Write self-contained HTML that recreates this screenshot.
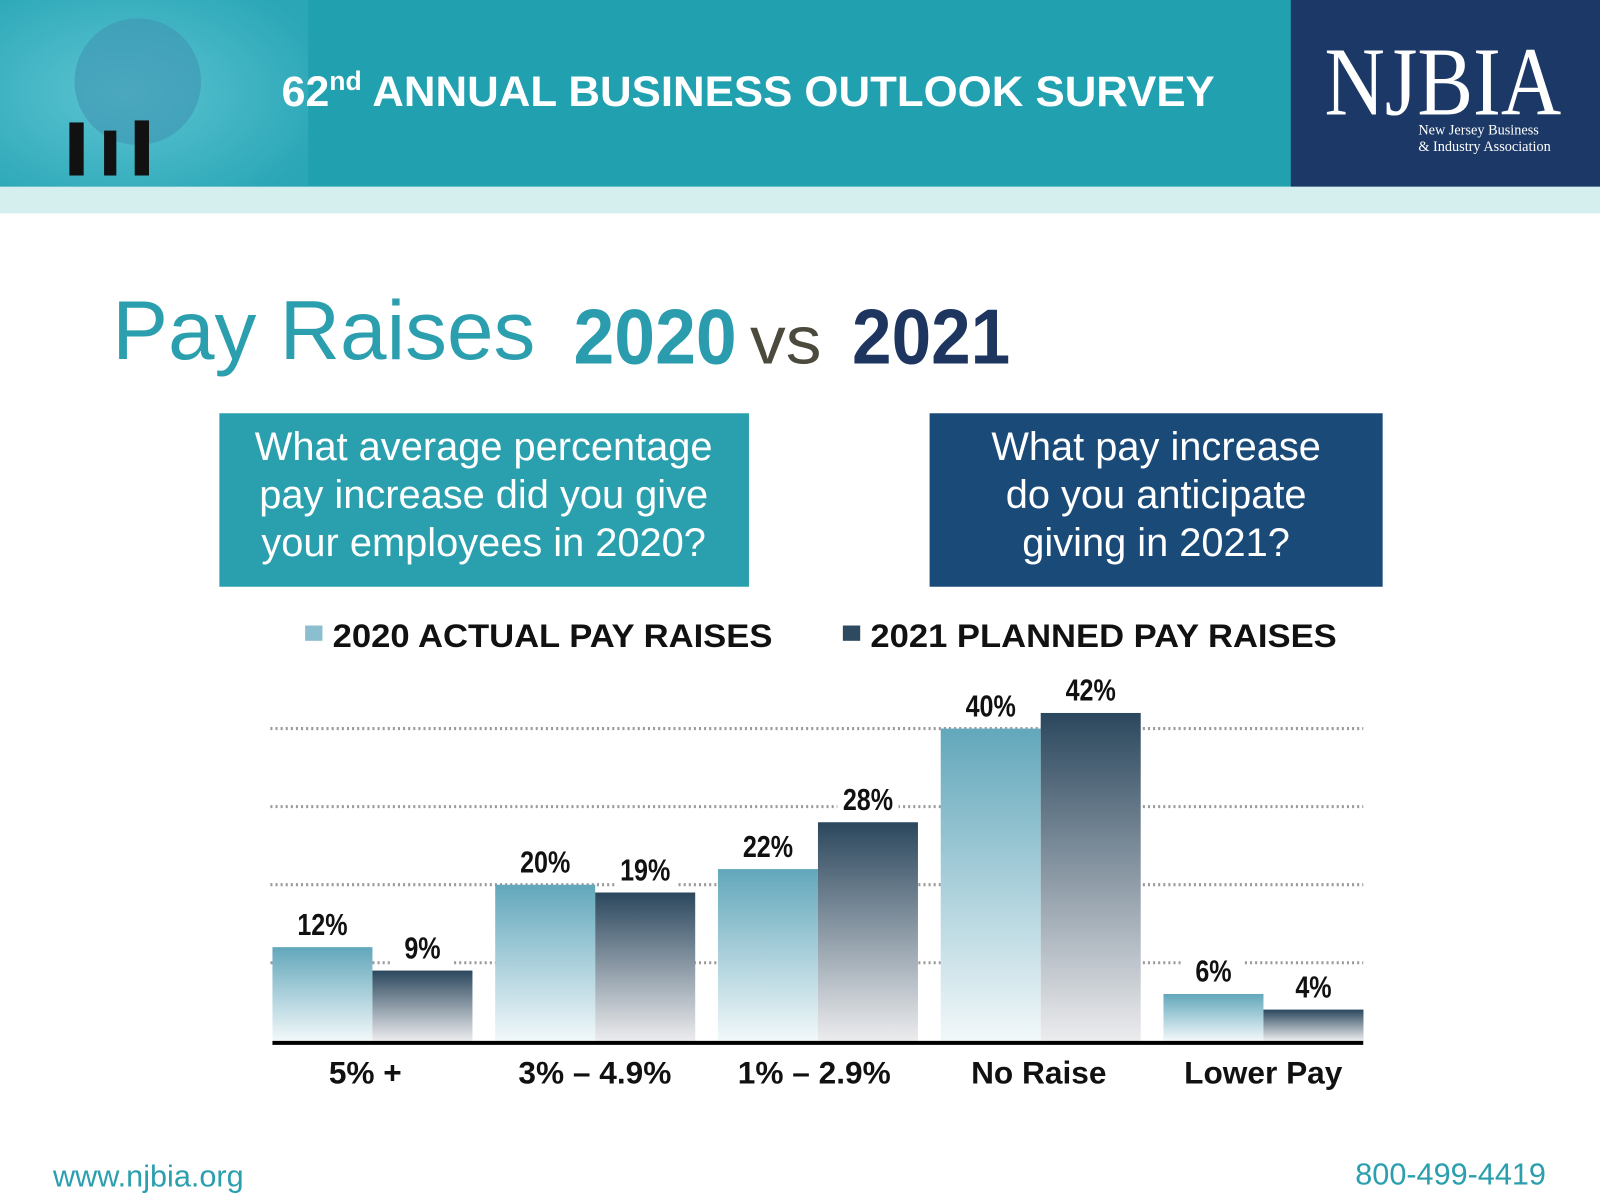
<!DOCTYPE html>
<html><head><meta charset="utf-8">
<style>
html,body{margin:0;padding:0;background:#fff;overflow:hidden}
#wrap{width:1568px;height:1176px;position:relative;transform:scale(1.020408);transform-origin:0 0;font-family:"Liberation Sans",sans-serif}
</style></head><body>
<div id="wrap">
<svg width="1568" height="1176" viewBox="0 0 1568 1176" xmlns="http://www.w3.org/2000/svg">
<defs>
<linearGradient id="gl" x1="0" y1="0" x2="0" y2="1"><stop offset="0" stop-color="#62a7bb"/><stop offset="1" stop-color="#f2f8fa"/></linearGradient>
<linearGradient id="gd" x1="0" y1="0" x2="0" y2="1"><stop offset="0" stop-color="#2b475d"/><stop offset="1" stop-color="#ececee"/></linearGradient>
<radialGradient id="hg" cx="0.4" cy="0.5" r="0.7"><stop offset="0" stop-color="#5cc4d2"/><stop offset="1" stop-color="#2aa6b6"/></radialGradient>
</defs>
<rect x="0" y="0" width="1568" height="183" fill="#21a0b0"/>
<rect x="0" y="0" width="302" height="183" fill="url(#hg)"/>
<circle cx="135" cy="80" r="62" fill="#3f94b0" opacity="0.6"/>
<g fill="#111"><rect x="68" y="120" width="14" height="52"/><rect x="102" y="128" width="12" height="44"/><rect x="132" y="118" width="14" height="54"/></g>
<text x="276" y="104" font-size="42" font-weight="bold" fill="#fff">62<tspan font-size="26" dy="-16">nd</tspan><tspan dy="16" textLength="836" lengthAdjust="spacingAndGlyphs"> ANNUAL BUSINESS OUTLOOK SURVEY</tspan></text>
<rect x="1265" y="0" width="303" height="183" fill="#1b3866"/>
<text x="1298" y="112" font-family="Liberation Serif,serif" font-size="96" fill="#fff" textLength="232" lengthAdjust="spacingAndGlyphs">NJBIA</text>
<text x="1390" y="132" font-family="Liberation Serif,serif" font-size="14" fill="#fff">New Jersey Business</text>
<text x="1390" y="148" font-family="Liberation Serif,serif" font-size="14" fill="#fff">&amp; Industry Association</text>
<rect x="0" y="183" width="1568" height="26" fill="#d5eeee"/>

<text x="110" y="352" font-size="82" fill="#2b9fae">Pay Raises</text>
<g>
<text x="562" y="356" font-size="76" font-weight="bold" fill="#2a9cad" textLength="160" lengthAdjust="spacingAndGlyphs">2020</text>
<text x="735" y="356" font-size="66" fill="#4b4a3c" textLength="70" lengthAdjust="spacingAndGlyphs">vs</text>
<text x="835" y="356" font-size="76" font-weight="bold" fill="#1e3560" textLength="155" lengthAdjust="spacingAndGlyphs">2021</text>
</g>

<rect x="215" y="405" width="519" height="170" fill="#2aa0ae"/>
<g font-size="39" fill="#fff" text-anchor="middle">
<text x="474" y="451">What average percentage</text><text x="474" y="498">pay increase did you give</text><text x="474" y="545">your employees in 2020?</text></g>
<rect x="911" y="405" width="444" height="170" fill="#1a4a78"/>
<g font-size="39" fill="#fff" text-anchor="middle">
<text x="1133" y="451">What pay increase</text><text x="1133" y="498">do you anticipate</text><text x="1133" y="545">giving in 2021?</text></g>

<rect x="299" y="613" width="17" height="15" fill="#8bbfcf"/>
<text x="326" y="634" font-size="32" font-weight="bold" fill="#111" textLength="431" lengthAdjust="spacingAndGlyphs">2020 ACTUAL PAY RAISES</text>
<rect x="826" y="613" width="17" height="15" fill="#2d4a60"/>
<text x="853" y="634" font-size="32" font-weight="bold" fill="#111" textLength="457" lengthAdjust="spacingAndGlyphs">2021 PLANNED PAY RAISES</text>

<g id="chart"></g>

<text x="52" y="1163" font-size="30" fill="#2b9fae">www.njbia.org</text>
<text x="1515" y="1161" font-size="30" fill="#2b9fae" text-anchor="end">800-499-4419</text>
</svg>
</div>
<script>
const categories = ["5% +", "3% \u2013 4.9%", "1% \u2013 2.9%", "No Raise", "Lower Pay"];
const values2020 = [12, 20, 22, 40, 6];
const values2021 = [9, 19, 28, 42, 4];
const gridTicks = [10, 20, 30, 40];

const NS = "http://www.w3.org/2000/svg";
const chart = document.getElementById("chart");
const y0 = 1020, perPct = 7.65;
const yScale = v => y0 - v * perPct;
const groupX = i => 267 + i * 218.3;
const barW = 98;
const labelCenters = [358, 583, 798, 1018, 1238];
function mk(tag, attrs) { const e = document.createElementNS(NS, tag); for (const k in attrs) e.setAttribute(k, attrs[k]); chart.appendChild(e); return e; }

gridTicks.forEach(t => {
  const g = mk("line", {x1: 265, x2: 1336, y1: yScale(t), y2: yScale(t), stroke: "#9a9a9a", "stroke-width": 3, "stroke-dasharray": "2 3"});
  
  
});

function label(x, v, name) {
  const y = yScale(v) - 12;
  const bg = mk("rect", {x: x - 30, y: y - 26, width: 60, height: 32, fill: "#fff"});
  
  
  const t = mk("text", {x: 0, y: y, "font-size": 30, "font-weight": "bold", fill: "#111", "text-anchor": "middle", transform: `translate(${x} 0) scale(0.82 1)`});
  t.textContent = v + "%";
  
  
}

categories.forEach((c, i) => {
  const x = groupX(i);
  const b1 = mk("rect", {x: x, y: yScale(values2020[i]), width: barW, height: y0 - yScale(values2020[i]), fill: "url(#gl)"});
  
  
  const b2 = mk("rect", {x: x + barW, y: yScale(values2021[i]), width: barW, height: y0 - yScale(values2021[i]), fill: "url(#gd)"});
  
  
  label(x + barW / 2, values2020[i], 'value-2020-' + i);
  label(x + barW * 1.5, values2021[i], 'value-2021-' + i);
  const t = mk("text", {x: labelCenters[i], y: 1062, "font-size": 31, "font-weight": "bold", fill: "#111", "text-anchor": "middle"});
  t.textContent = c;
  
  
});
const ax = mk("line", {x1: 267, x2: 1336, y1: 1022, y2: 1022, stroke: "#000", "stroke-width": 4});


</script>
</body></html>
